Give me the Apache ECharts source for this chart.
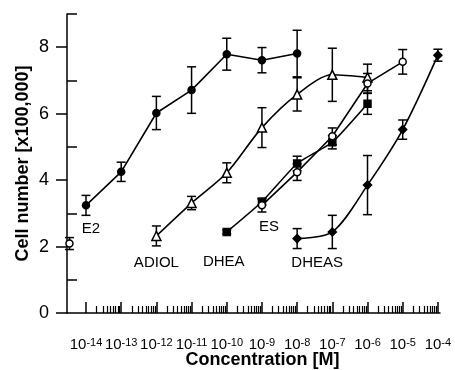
<!DOCTYPE html>
<html><head><meta charset="utf-8">
<script src="https://cdn.jsdelivr.net/npm/echarts@6/dist/echarts.min.js"></script>
<style>html,body{margin:0;padding:0;background:#fff}#c{width:455px;height:370px}</style>
</head><body><div id="c"></div>
<script>
// x values are log10 of concentration [M]
const decades = [-14,-13,-12,-11,-10,-9,-8,-7,-6,-5,-4];
const yMajor = [0,2,4,6,8];
const yMinor = [1,3,5,7,9];

const e2X = [-14,-13,-12,-11,-10,-9,-8];
const e2Y = [3.24,4.25,6.02,6.71,7.79,7.61,7.81];
const e2Err = [0.3,0.29,0.5,0.7,0.48,0.38,0.7];

const adiolX = [-12,-11,-10,-9,-8,-7,-6];
const adiolY = [2.32,3.31,4.22,5.58,6.58,7.17,7.09];
const adiolErr = [0.3,0.2,0.3,0.6,0.5,0.8,0.4];

const dheaX = [-10,-9,-8,-7,-6];
const dheaY = [2.44,3.35,4.5,5.14,6.3];
const dheaErr = [0.06,0.1,0.22,0.2,0.32];

const esX = [-9,-8,-7,-6,-5];
const esY = [3.24,4.24,5.32,6.91,7.56];
const esErr = [0.2,0.25,0.25,0.3,0.37];

const dheasX = [-8,-7,-6,-5,-4];
const dheasY = [2.24,2.44,3.85,5.52,7.76];
const dheasErr = [0.3,0.5,0.89,0.29,0.18];

const controlX = [-14.47];
const controlY = [2.09];
const controlErr = [0.18];

// log minor tick positions (2..9 within each decade)
const minorTicks = [];
for (let i = 0; i < decades.length - 1; i++) {
  for (let k = 2; k <= 9; k++) minorTicks.push(decades[i] + Math.log10(k));
}

const FONT = 'Liberation Sans, Arial, Helvetica, sans-serif';
const BLACK = '#000';

function errItem(params, api) {
  const x = api.value(0), y = api.value(1), e = api.value(2);
  const top = api.coord([x, y + e]), bot = api.coord([x, y - e]);
  const w = 4.5;
  const style = {stroke: BLACK, lineWidth: 1.5, fill: null};
  return {type: 'group', children: [
    {type: 'line', shape: {x1: top[0], y1: top[1], x2: bot[0], y2: bot[1]}, style},
    {type: 'line', shape: {x1: top[0] - w, y1: top[1], x2: top[0] + w, y2: top[1]}, style},
    {type: 'line', shape: {x1: bot[0] - w, y1: bot[1], x2: bot[0] + w, y2: bot[1]}, style}
  ]};
}

function makeSeries(name, xs, ys, errs, opts) {
  const data = xs.map((x, i) => {
    const item = {value: [x, ys[i]]};
    if (opts.labelIndex === i) {
      item.label = {show: true, formatter: name, position: 'inside',
        offset: opts.labelOffset, color: BLACK, fontSize: 15, fontFamily: FONT};
    }
    return item;
  });
  return [
    {type: 'custom', name: name + ' err', renderItem: errItem, z: 2,
     data: xs.map((x, i) => [x, ys[i], errs[i]]), encode: {x: 0, y: 1}},
    {type: 'line', name: name, data: data, z: 3,
     showLine: opts.showLine !== false,
     smooth: opts.smooth || false,
     symbol: opts.symbol, symbolSize: opts.size,
     itemStyle: {color: opts.open ? '#fff' : BLACK, borderColor: BLACK, borderWidth: 1.5},
     lineStyle: {color: BLACK, width: 1.6}}
  ];
}

const series = [].concat(
  makeSeries('E2', e2X, e2Y, e2Err, {symbol: 'circle', size: 7, labelIndex: 0, labelOffset: [5, 23]}),
  makeSeries('ADIOL', adiolX, adiolY, adiolErr, {symbol: 'triangle', size: 9, open: true, smooth: 0.3, labelIndex: 0, labelOffset: [0, 27]}),
  makeSeries('DHEA', dheaX, dheaY, dheaErr, {symbol: 'rect', size: 7, smooth: 0.15, labelIndex: 0, labelOffset: [-3, 30]}),
  makeSeries('ES', esX, esY, esErr, {symbol: 'circle', size: 7, open: true, labelIndex: 0, labelOffset: [7, 21]}),
  makeSeries('DHEAS', dheasX, dheasY, dheasErr, {symbol: 'diamond', size: 8, smooth: 0.3, labelIndex: 0, labelOffset: [20, 24]}),
  makeSeries('Control', controlX, controlY, controlErr, {symbol: 'circle', size: 7, open: true, showLine: false})
);

const xMin = -14.54, xMax = -3.94;
const option = {
  animation: false,
  backgroundColor: '#fff',
  grid: {left: 67, right: 15, top: 14, bottom: 57, containLabel: false, outerBoundsMode: 'none'},
  xAxis: [
    {type: 'value', min: xMin, max: xMax, position: 'bottom',
     name: 'Concentration [M]', nameLocation: 'middle', nameGap: 38, nameMoveOverlap: false,
     nameTextStyle: {fontSize: 18, fontWeight: 'bold', color: BLACK, fontFamily: FONT, padding: [0, 0, 0, 18]},
     axisLine: {show: true, lineStyle: {color: BLACK, width: 1.5}},
     axisTick: {show: true, inside: true, length: 11, customValues: decades, lineStyle: {color: BLACK, width: 1.5}},
     axisLabel: {customValues: decades, margin: 24, color: BLACK, fontFamily: FONT, fontSize: 15,
       formatter: v => '{b|10}{s|' + v + '}',
       rich: {b: {fontSize: 15, fontFamily: FONT, color: BLACK, verticalAlign: 'bottom'},
              s: {fontSize: 11, fontFamily: FONT, color: BLACK, verticalAlign: 'top'}}},
     splitLine: {show: false}},
    {type: 'value', min: xMin, max: xMax, position: 'bottom',
     axisLine: {show: false},
     axisTick: {show: true, inside: true, length: 7, customValues: minorTicks, lineStyle: {color: BLACK, width: 1.2}},
     axisLabel: {show: false}, splitLine: {show: false}}
  ],
  yAxis: [
    {type: 'value', min: 0, max: 9, position: 'left',
     name: 'Cell number [x100,000]', nameLocation: 'middle', nameGap: 35, nameMoveOverlap: false,
     nameTextStyle: {fontSize: 18, fontWeight: 'bold', color: BLACK, fontFamily: FONT},
     axisLine: {show: true, lineStyle: {color: BLACK, width: 1.5}},
     axisTick: {show: true, inside: false, length: 11, customValues: yMajor, lineStyle: {color: BLACK, width: 1.5}},
     axisLabel: {customValues: yMajor, margin: 18, fontSize: 18, color: BLACK, fontFamily: FONT},
     splitLine: {show: false}},
    {type: 'value', min: 0, max: 9, position: 'left',
     axisLine: {show: false},
     axisTick: {show: true, inside: true, length: 10, customValues: yMinor, lineStyle: {color: BLACK, width: 1.5}},
     axisLabel: {show: false}, splitLine: {show: false}}
  ],
  series: series
};

const chart = echarts.init(document.getElementById('c'), null, {renderer: 'canvas'});
chart.setOption(option);
</script>
</body></html>
